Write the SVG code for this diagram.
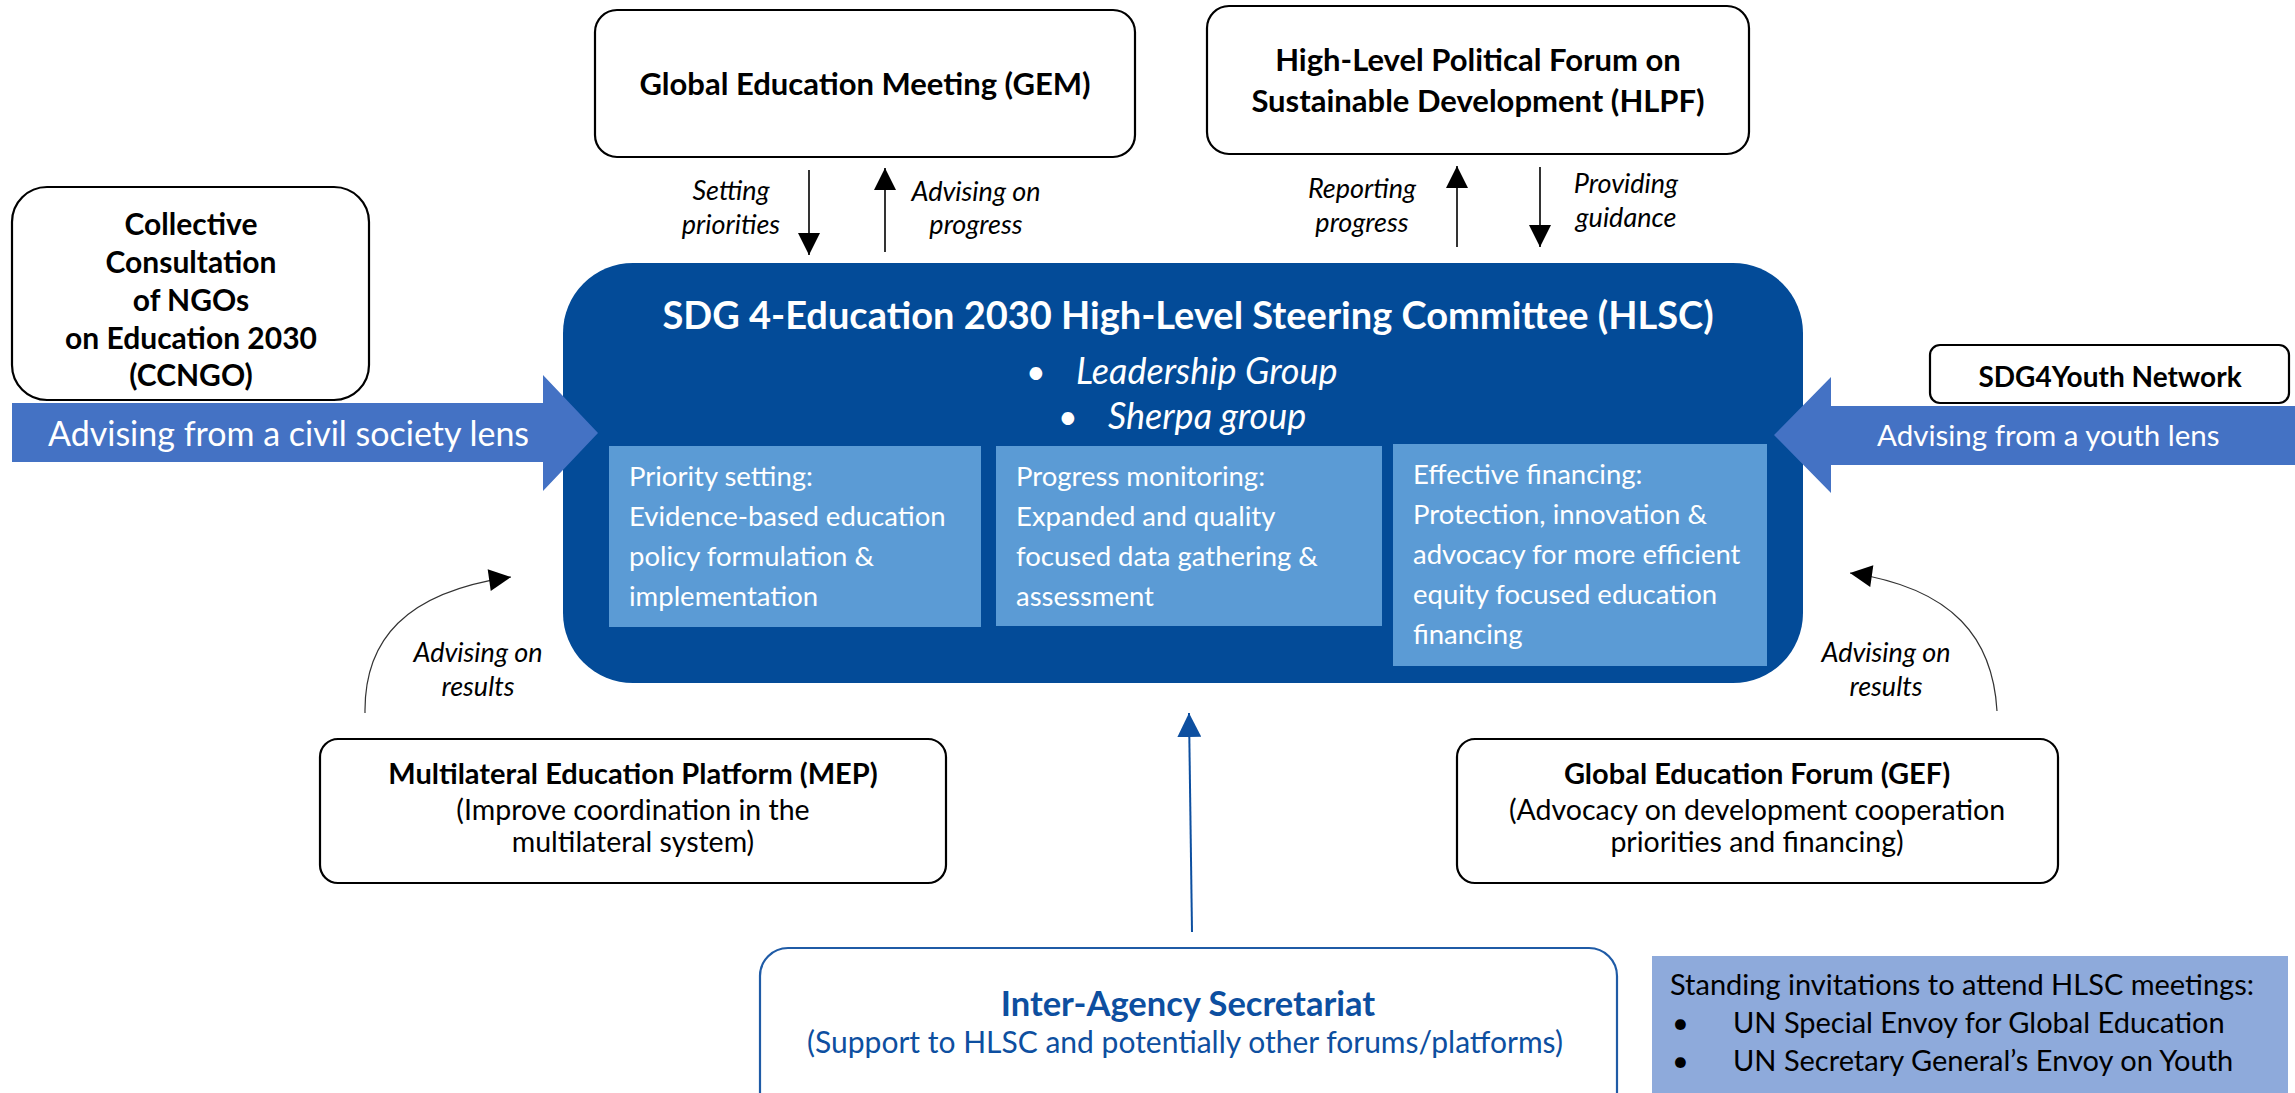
<svg xmlns="http://www.w3.org/2000/svg" width="2295" height="1093" viewBox="0 0 2295 1093">
<style>
text{font-family:Lato,"Liberation Sans",sans-serif;}
.box{fill:#fff;stroke:#000;stroke-width:2.2;}
.b{font-weight:bold;fill:#000;}
.w{fill:#fff;}
.it{font-style:italic;fill:#000;}
.mid{text-anchor:middle;}
.sub{fill:#5B9BD5;}
.band{fill:#4472C4;}
.conn{stroke:#000;stroke-width:1.6;fill:none;}
.curve{stroke:#333;stroke-width:1.2;fill:none;}
.ia{fill:#0D4FA0;}
</style>
<defs>
<marker id="ah" viewBox="0 0 10 10" refX="10" refY="5" markerUnits="userSpaceOnUse" markerWidth="23" markerHeight="22" orient="auto">
<path d="M0,0 L10,5 L0,10 z" fill="#000"/>
</marker>
<marker id="ahb" viewBox="0 0 10 10" refX="10" refY="5" markerUnits="userSpaceOnUse" markerWidth="24" markerHeight="24" orient="auto">
<path d="M0,0 L10,5 L0,10 z" fill="#0D4FA0"/>
</marker>
</defs>

<g id="hlsc">
<rect x="563" y="263" width="1240" height="420" rx="70" ry="70" fill="#034B98"/>
<text class="b mid" x="1188" y="329" font-size="38" style="fill:#fff">SDG 4-Education 2030 High-Level Steering Committee (HLSC)</text>
<text x="1026" y="384" font-size="34" fill="#fff">•</text>
<text class="it" x="1076" y="384" font-size="36" style="fill:#fff">Leadership Group</text>
<text x="1058" y="429" font-size="34" fill="#fff">•</text>
<text class="it" x="1108" y="429" font-size="36" style="fill:#fff">Sherpa group</text>
</g>

<g id="priority">
<rect class="sub" x="609" y="446" width="372" height="181"/>
<text class="w" font-size="27.5"><tspan x="629" y="486">Priority setting:</tspan><tspan x="629" y="526">Evidence-based education</tspan><tspan x="629" y="566">policy formulation &amp;</tspan><tspan x="629" y="606">implementation</tspan></text>
</g>
<g id="progress">
<rect class="sub" x="996" y="446" width="386" height="180"/>
<text class="w" font-size="27.5"><tspan x="1016" y="486">Progress monitoring:</tspan><tspan x="1016" y="526">Expanded and quality</tspan><tspan x="1016" y="566">focused data gathering &amp;</tspan><tspan x="1016" y="606">assessment</tspan></text>
</g>
<g id="financing">
<rect class="sub" x="1393" y="444" width="374" height="222"/>
<text class="w" font-size="27.5"><tspan x="1413" y="484">Effective financing:</tspan><tspan x="1413" y="524">Protection, innovation &amp;</tspan><tspan x="1413" y="564">advocacy for more efficient</tspan><tspan x="1413" y="604">equity focused education</tspan><tspan x="1413" y="644">financing</tspan></text>
</g>

<g id="gem">
<rect class="box" x="595" y="10" width="540" height="147" rx="22"/>
<text class="b mid" x="865" y="95" font-size="31">Global Education Meeting (GEM)</text>
</g>
<g id="hlpf">
<rect class="box" x="1207" y="6" width="542" height="148" rx="22"/>
<text class="b mid" font-size="31"><tspan x="1478" y="71">High-Level Political Forum on</tspan><tspan x="1478" y="112">Sustainable Development (HLPF)</tspan></text>
</g>
<g id="ccngo">
<rect class="box" x="12" y="187" width="357" height="213" rx="35"/>
<text class="b mid" font-size="30"><tspan x="191" y="235">Collective</tspan><tspan x="191" y="273">Consultation</tspan><tspan x="191" y="311">of NGOs</tspan><tspan x="191" y="349">on Education 2030</tspan><tspan x="191" y="386">(CCNGO)</tspan></text>
</g>
<g id="youth">
<rect class="box" x="1930" y="345" width="359" height="58" rx="10"/>
<text class="b mid" x="2110" y="387" font-size="28">SDG4Youth Network</text>
</g>
<g id="mep">
<rect class="box" x="320" y="739" width="626" height="144" rx="18"/>
<text class="mid" font-size="28.5" fill="#000"><tspan x="633" y="784" font-weight="bold" font-size="29">Multilateral Education Platform (MEP)</tspan><tspan x="633" y="820">(Improve coordination in the</tspan><tspan x="633" y="852">multilateral system)</tspan></text>
</g>
<g id="gef">
<rect class="box" x="1457" y="739" width="601" height="144" rx="18"/>
<text class="mid" font-size="28.5" fill="#000"><tspan x="1757" y="784" font-weight="bold" font-size="29">Global Education Forum (GEF)</tspan><tspan x="1757" y="820">(Advocacy on development cooperation</tspan><tspan x="1757" y="852">priorities and financing)</tspan></text>
</g>
<g id="secretariat">
<rect x="760" y="948" width="857" height="180" rx="28" fill="#fff" stroke="#1F5BA6" stroke-width="2.2"/>
<text class="mid ia" x="1188" y="1016" font-size="34.5" font-weight="bold">Inter-Agency Secretariat</text>
<text class="mid ia" x="1185" y="1053" font-size="30">(Support to HLSC and potentially other forums/platforms)</text>
</g>
<g id="invitations">
<rect x="1652" y="956" width="636" height="140" fill="#8EAADB"/>
<text font-size="29" fill="#000"><tspan x="1670" y="995">Standing invitations to attend HLSC meetings:</tspan><tspan x="1672" y="1033">•</tspan><tspan x="1733" y="1033">UN Special Envoy for Global Education</tspan><tspan x="1672" y="1071">•</tspan><tspan x="1733" y="1071">UN Secretary General’s Envoy on Youth</tspan></text>
</g>

<g id="connectors">
<polygon class="band" points="12,403 543,403 543,375 598,433 543,491 543,462 12,462"/>
<text class="w" x="48" y="446" font-size="34">Advising from a civil society lens</text>
<polygon class="band" points="2295,406 1831,406 1831,377 1774,435 1831,493 1831,465 2295,465"/>
<text class="w" x="1877" y="446" font-size="29.5">Advising from a youth lens</text>

<line class="conn" x1="809" y1="170" x2="809" y2="255" marker-end="url(#ah)"/>
<line class="conn" x1="885" y1="252" x2="885" y2="168" marker-end="url(#ah)"/>
<line class="conn" x1="1457" y1="247" x2="1457" y2="166" marker-end="url(#ah)"/>
<line class="conn" x1="1540" y1="167" x2="1540" y2="247" marker-end="url(#ah)"/>
<text class="it mid" font-size="27"><tspan x="731" y="200">Setting</tspan><tspan x="731" y="234">priorities</tspan></text>
<text class="it mid" font-size="27"><tspan x="976" y="201">Advising on</tspan><tspan x="976" y="234">progress</tspan></text>
<text class="it mid" font-size="27"><tspan x="1362" y="198">Reporting</tspan><tspan x="1362" y="232">progress</tspan></text>
<text class="it mid" font-size="27"><tspan x="1626" y="193">Providing</tspan><tspan x="1626" y="227">guidance</tspan></text>

<path class="curve" d="M365,713 C364,640 405,592 511,577" marker-end="url(#ah)"/>
<text class="it mid" font-size="27"><tspan x="478" y="662">Advising on</tspan><tspan x="478" y="696">results</tspan></text>
<path class="curve" d="M1997,711 C1993,640 1955,588 1850,573" marker-end="url(#ah)"/>
<text class="it mid" font-size="27"><tspan x="1886" y="662">Advising on</tspan><tspan x="1886" y="696">results</tspan></text>

<line x1="1192" y1="932" x2="1189" y2="713" stroke="#0D4FA0" stroke-width="2" marker-end="url(#ahb)"/>
</g>
</svg>
